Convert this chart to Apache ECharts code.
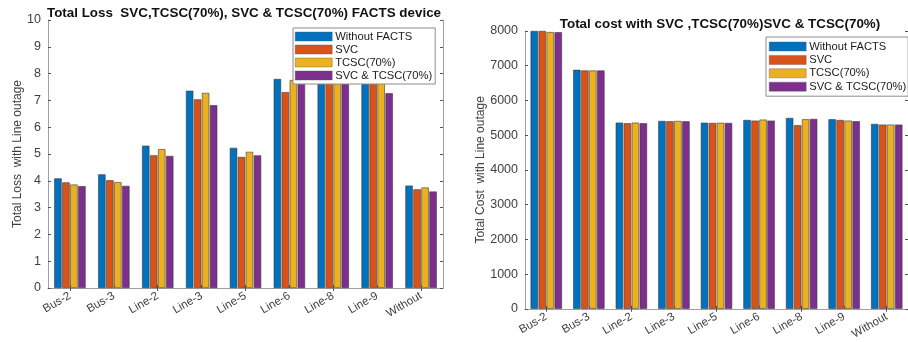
<!DOCTYPE html>
<html>
<head>
<meta charset="utf-8">
<script src="https://cdn.jsdelivr.net/npm/echarts@6/dist/echarts.min.js"></script>
<style>
  html, body { margin: 0; padding: 0; background: #fff; }
  #chart { width: 908px; height: 342px; }
</style>
</head>
<body>
<div id="chart"></div>
<script>
// Outage cases on the horizontal axis of both panels
const cases = ['Bus-2', 'Bus-3', 'Line-2', 'Line-3', 'Line-5', 'Line-6', 'Line-8', 'Line-9', 'Without'];
const seriesNames = ['Without FACTS', 'SVC', 'TCSC(70%)', 'SVC & TCSC(70%)'];

// Total loss per case
const lossWithoutFacts = [4.09, 4.24, 5.31, 7.36, 5.23, 7.80, 8.30, 8.10, 3.82];
const lossSvc          = [3.94, 4.02, 4.95, 7.04, 4.89, 7.31, 8.05, 7.85, 3.68];
const lossTcsc         = [3.86, 3.95, 5.18, 7.28, 5.08, 7.76, 8.20, 8.00, 3.75];
const lossSvcTcsc      = [3.80, 3.81, 4.93, 6.82, 4.95, 7.90, 7.95, 7.27, 3.60];

// Total cost per case
const costWithoutFacts = [8000, 6882, 5362, 5410, 5358, 5438, 5496, 5458, 5324];
const costSvc          = [8000, 6862, 5342, 5400, 5352, 5420, 5286, 5438, 5305];
const costTcsc         = [7970, 6862, 5360, 5410, 5356, 5448, 5458, 5420, 5305];
const costSvcTcsc      = [7965, 6862, 5342, 5400, 5352, 5420, 5467, 5400, 5305];

const lossTicks = { min: 0, max: 10, interval: 1 };
const costTicks = { min: 0, max: 8000, interval: 1000 };

const colors = ['#0072BD', '#D95319', '#EDB120', '#7E2F8E'];
const textGray = '#404040';
const axisGray = '#a0a0a0';
const font = 'Liberation Sans, Arial, sans-serif';

const lossData = [lossWithoutFacts, lossSvc, lossTcsc, lossSvcTcsc];
const costData = [costWithoutFacts, costSvc, costTcsc, costSvcTcsc];

function bottomX(gridIndex) {
  return {
    type: 'category', gridIndex, data: cases, position: 'bottom',
    axisLine: { lineStyle: { color: axisGray, width: 1 } },
    axisTick: { show: true, inside: true, alignWithLabel: true, length: 3, lineStyle: { color: '#555' } },
    axisLabel: { rotate: 30, color: textGray, fontSize: 11.5, fontFamily: font, margin: 7, interval: 0 }
  };
}
function topX(gridIndex) {
  return {
    type: 'category', gridIndex, data: cases, position: 'top',
    axisLine: { lineStyle: { color: axisGray, width: 1 } },
    axisTick: { show: true, inside: true, alignWithLabel: true, length: 3, lineStyle: { color: '#555' } },
    axisLabel: { show: false }
  };
}
function leftY(gridIndex, ticks, name, nameGap) {
  return {
    type: 'value', gridIndex, position: 'left', ...ticks,
    name, nameLocation: 'middle', nameGap,
    nameTextStyle: { color: textGray, fontSize: 12, fontFamily: font },
    axisLine: { show: true, lineStyle: { color: axisGray, width: 1 } },
    axisTick: { show: true, inside: true, length: 3, lineStyle: { color: '#555' } },
    axisLabel: { color: textGray, fontSize: 12.5, fontFamily: font, margin: 7, formatter: v => String(v) },
    splitLine: { show: false }
  };
}
function rightY(gridIndex, ticks) {
  return {
    type: 'value', gridIndex, position: 'right', ...ticks,
    axisLine: { show: true, lineStyle: { color: axisGray, width: 1 } },
    axisTick: { show: true, inside: true, length: 3, lineStyle: { color: '#555' } },
    axisLabel: { show: false },
    splitLine: { show: false }
  };
}

function barSeries(dataSets, xIndex, yIndex) {
  return dataSets.map((values, i) => ({
    type: 'bar', name: seriesNames[i], data: values,
    xAxisIndex: xIndex, yAxisIndex: yIndex,
    barWidth: 7.4, barGap: '8%',
    itemStyle: { color: colors[i], borderColor: '#3a3a3a', borderWidth: 0.6 },
    emphasis: { disabled: true },
    animation: false
  }));
}

function legendAt(left, top, gap, padding) {
  return {
    orient: 'vertical', left, top, data: seriesNames,
    itemWidth: 37, itemHeight: 9, itemGap: gap, padding,
    backgroundColor: '#ffffff', borderColor: '#8c8c8c', borderWidth: 1,
    icon: 'rect',
    selectedMode: false,
    itemStyle: { borderWidth: 0.4, borderColor: '#555' },
    textStyle: { color: '#1a1a1a', fontSize: 11.2, lineHeight: 9, fontFamily: font, padding: [0, 0, 0, -2] },
    z: 10
  };
}

const chart = echarts.init(document.getElementById('chart'), null, { renderer: 'canvas' });
chart.setOption({
  animation: false,
  color: colors,
  title: [
    { text: 'Total Loss  SVC,TCSC(70%), SVC & TCSC(70%) FACTS device', left: 239, top: 2, textAlign: 'center',
      textStyle: { fontSize: 13.4, fontWeight: 'bold', color: '#111', fontFamily: font } },
    { text: 'Total cost with SVC ,TCSC(70%)SVC & TCSC(70%)', left: 715, top: 13, textAlign: 'center',
      textStyle: { fontSize: 13.4, fontWeight: 'bold', color: '#111', fontFamily: font } }
  ],
  grid: [
    { left: 48, top: 20, width: 395, height: 268 },
    { left: 525, top: 31, width: 393, height: 279 }
  ],
  xAxis: [bottomX(0), bottomX(1), topX(0), topX(1)],
  yAxis: [
    leftY(0, lossTicks, 'Total Loss  with Line outage', 24),
    leftY(1, costTicks, 'Total Cost  with Line outage', 34),
    rightY(0, lossTicks),
    rightY(1, costTicks)
  ],
  legend: [
    legendAt(293, 28, 2, [3, 3, 3, 2]),
    legendAt(766, 37, 2.4, [4, 2, 4, 3])
  ],
  series: [...barSeries(lossData, 0, 0), ...barSeries(costData, 1, 1)]
});
</script>
</body>
</html>
